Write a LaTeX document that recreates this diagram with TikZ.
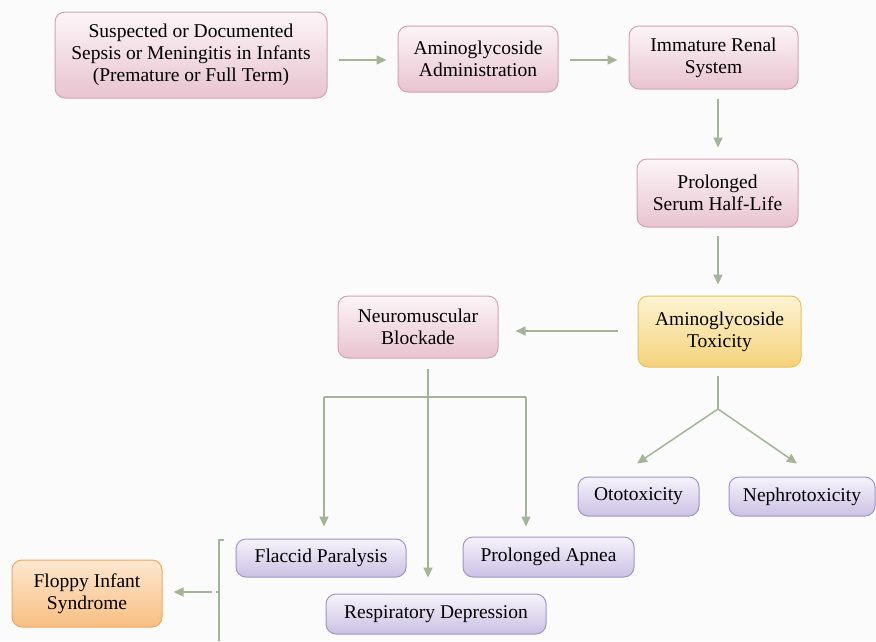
\documentclass[tikz,border=0pt]{standalone}
\usepackage{fontspec}
\setmainfont{Liberation Serif}
\usetikzlibrary{arrows.meta}
\definecolor{pinkT}{HTML}{FCF5F8}
\definecolor{pinkB}{HTML}{E8C3D0}
\definecolor{pinkD}{HTML}{D3A3B5}
\definecolor{purT}{HTML}{F6F3FB}
\definecolor{purB}{HTML}{CBC1E4}
\definecolor{purD}{HTML}{A094CB}
\definecolor{yelT}{HTML}{FDF4D3}
\definecolor{yelB}{HTML}{F4D27A}
\definecolor{yelD}{HTML}{E9C25C}
\definecolor{oraT}{HTML}{FDE8D0}
\definecolor{oraB}{HTML}{F7BE82}
\definecolor{oraD}{HTML}{EFA75E}
\definecolor{arrc}{HTML}{A3B596}
\definecolor{bgc}{HTML}{FBFBFB}
\begin{document}
\begin{tikzpicture}[x=1pt,y=-1pt,
  box/.style={draw, rounded corners=10pt, line width=1pt, align=center,
    font=\fontsize{19.5}{22}\selectfont, inner sep=0pt, text=black},
  pinkbox/.style={box, draw=pinkD, top color=pinkT, bottom color=pinkB},
  purbox/.style={box, draw=purD, top color=purT, bottom color=purB},
  yelbox/.style={box, draw=yelD, top color=yelT, bottom color=yelB},
  orabox/.style={box, draw=oraD, top color=oraT, bottom color=oraB},
  lineC/.style={draw=arrc, line width=1.5pt},
  conn/.style={lineC, -{Triangle[length=10pt,width=9pt]}}
]
\fill[bgc] (0,0) rectangle (876,641);
\useasboundingbox (0,0) rectangle (876,641);

\node[pinkbox, minimum width=272pt, minimum height=86pt] (s) at (191,55)
  {Suspected or Documented\\Sepsis or Meningitis in Infants\\(Premature or Full Term)};
\node[pinkbox, minimum width=160pt, minimum height=66pt] (a) at (478,59)
  {Aminoglycoside\\Administration};
\node[pinkbox, minimum width=169pt, minimum height=63pt] (r) at (713.5,57.5)
  {Immature Renal\\System};
\node[pinkbox, minimum width=161pt, minimum height=68pt] (h) at (717.5,193)
  {Prolonged\\Serum Half-Life};
\node[yelbox, minimum width=163pt, minimum height=71pt] (t) at (719.5,331.5)
  {Aminoglycoside\\Toxicity};
\node[pinkbox, minimum width=160pt, minimum height=62pt] (n) at (418,327)
  {Neuromuscular\\Blockade};
\node[purbox, minimum width=121pt, minimum height=39pt] (o) at (638.5,496.5)
  {Ototoxicity};
\node[purbox, minimum width=146pt, minimum height=39pt] (ne) at (802,496.5)
  {Nephrotoxicity};
\node[purbox, minimum width=170pt, minimum height=38pt] (fl) at (321,558)
  {Flaccid Paralysis};
\node[purbox, minimum width=171pt, minimum height=40pt] (ap) at (548.5,557)
  {Prolonged Apnea};
\node[purbox, minimum width=220pt, minimum height=40pt] (rd) at (436,614)
  {Respiratory Depression};
\node[orabox, minimum width=150pt, minimum height=67pt] (fp) at (87,593.5)
  {Floppy Infant\\Syndrome};

% top chain
\draw[conn, shorten <=11pt, shorten >=11pt] (s.east |- 0,60) -- (a.west |- 0,60);
\draw[conn, shorten <=11pt, shorten >=11pt] (a.east |- 0,60) -- (r.west |- 0,60);
\draw[conn, shorten <=9pt, shorten >=11pt] (r.south -| 718,0) -- (h.north -| 718,0);
\draw[conn, shorten <=8pt, shorten >=11pt] (h.south -| 718,0) -- (t.north -| 718,0);
\draw[conn, shorten <=20pt, shorten >=17pt] (t.west |- 0,331) -- (n.east |- 0,331);

% neuromuscular tree
\coordinate (jl) at (324,397);
\coordinate (jr) at (526,397);
\draw[lineC] (jl) -- (jr);
\draw[conn, shorten <=10pt, shorten >=16pt] (n.south -| 428,0) -- (rd.north -| 428,0);
\draw[conn, shorten >=12pt] (jl) -- (jl |- fl.north);
\draw[conn, shorten >=10pt] (jr) -- (jr |- ap.north);

% toxicity fork
\coordinate (tf) at (718,409);
\draw[lineC, shorten <=8pt] (t.south -| 718,0) -- (tf);
\draw[conn] (tf) -- ([xshift=-1.5pt,yshift=13pt]o.north);
\draw[conn] (tf) -- ([xshift=-5pt,yshift=13pt]ne.north);

% bracket and floppy infant
\coordinate (bt) at (219,540);
\coordinate (bb) at (219,641);
\coordinate (bm) at (219,592);
\draw[lineC] ([xshift=5pt]bt) -- (bt) -- (bb);
\draw[lineC] (bm) -- ([xshift=-3pt]bm);
\draw[conn, shorten <=7pt, shorten >=11pt] (bm) -- (fp.east |- bm);
\end{tikzpicture}
\end{document}
